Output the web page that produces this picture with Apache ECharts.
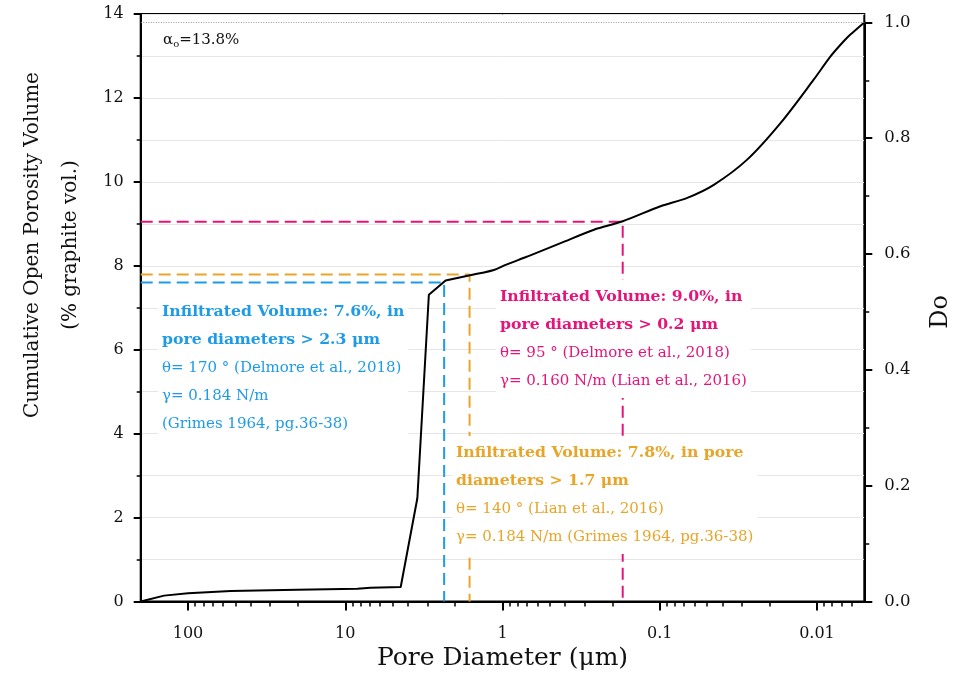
<!DOCTYPE html>
<html>
<head>
<meta charset="utf-8">
<script src="https://cdn.jsdelivr.net/npm/echarts@6/dist/echarts.min.js"></script>
<style>html,body{margin:0;padding:0;background:#fff}#c{width:955px;height:677px}</style>
</head>
<body>
<div id="c"></div>
<script>
// ---- data ----
const curveD = [200, 142, 100, 53.5, 20.2, 8.38, 6.9, 4.44, 3.48, 2.94, 2.30, 1.635, 1.134, 0.956, 0.696, 0.427, 0.262, 0.172, 0.0989, 0.0668, 0.0453, 0.0278, 0.01706, 0.01047, 0.0082, 0.00676, 0.00613, 0.005];
const curveV = [0.0, 0.14, 0.195, 0.25, 0.28, 0.305, 0.33, 0.346, 2.46, 7.31, 7.65, 7.77, 7.9, 8.02, 8.22, 8.54, 8.86, 9.06, 9.42, 9.62, 9.93, 10.53, 11.40, 12.44, 12.99, 13.35, 13.51, 13.8];
const kneeIndex = 11; // last sharp corner; the curve is smooth beyond it
const guideNames = ['blue', 'orange', 'pink'];
const guideD = [2.35, 1.62, 0.172];
const guideV = [7.6, 7.79, 9.05];
const alphaO = 13.8;
const xMajorTicks = [100, 10, 1, 0.1, 0.01];
const xMinorTicks = [90, 80, 70, 60, 50, 40, 30, 20, 9, 8, 7, 6, 5, 4, 3, 2, 0.9, 0.8, 0.7, 0.6, 0.5, 0.4, 0.3, 0.2, 0.09, 0.08, 0.07, 0.06, 0.05, 0.04, 0.03, 0.02, 0.009, 0.008, 0.007, 0.006];
const xMin = 0.005, xMax = 200;
const yMin = 0, yMax = 14, yInterval = 2;
const doMin = 0, doMax = 1, doInterval = 0.2;

// ---- styling ----
const FONT = 'DejaVu Serif';
const C_BLUE = '#1E9BE6', C_ORANGE = '#E8A52A', C_PINK = '#E6147A';
const guideColors = [C_BLUE, C_ORANGE, C_PINK];

const chart = echarts.init(document.getElementById('c'), null, {renderer: 'canvas'});

const GL = 140.7, GR = 90.7, GT = 14, GB = 75.5;
const plotH = 677 - GT - GB;
const gridTop2 = GT + (yMax - alphaO) / yMax * plotH;

const curveData = curveD.map((d, i) => [d, curveV[i]]);
const guideSeries = guideD.map((d, i) => ({
  type: 'line', name: guideNames[i], xAxisIndex: 0, yAxisIndex: 0,
  data: [[xMax, guideV[i]], [d, guideV[i]], [d, yMin]],
  symbol: 'none', silent: true, z: 3,
  lineStyle: {color: guideColors[i], width: 2, type: [12, 6]}
}));

function fmtX(v) {
  for (const t of xMajorTicks) { if (Math.abs(v - t) / t < 1e-6) return String(t); }
  return '';
}

const boxRich = (color) => ({
  b: {fontFamily: FONT, fontWeight: 'bold', fontSize: 15.7, lineHeight: 28, fill: color},
  r: {fontFamily: FONT, fontSize: 15, lineHeight: 28, fill: color}
});

const option = {
  animation: false,
  backgroundColor: '#fff',
  grid: [
    {left: GL, right: GR, top: GT, bottom: GB, show: true, borderColor: '#000', borderWidth: 2, outerBoundsMode: 'none', containLabel: false},
    {left: GL, right: GR, top: gridTop2, bottom: GB, outerBoundsMode: 'none', containLabel: false}
  ],
  xAxis: [
    {
      type: 'log', gridIndex: 0, logBase: 10, min: xMin, max: xMax, inverse: true, position: 'bottom',
      axisLine: {show: true, onZero: false, lineStyle: {color: '#000', width: 2}},
      axisTick: {show: true, length: 9, lineStyle: {color: '#000', width: 2}, customValues: xMajorTicks},
      axisLabel: {customValues: xMajorTicks, formatter: fmtX, margin: 24, fontFamily: FONT, fontSize: 16, color: '#111'},
      splitLine: {show: false}, minorTick: {show: false},
      name: 'Pore Diameter (μm)', nameLocation: 'middle', nameGap: 44,
      nameTextStyle: {fontFamily: FONT, fontSize: 25, color: '#111'}
    },
    {
      type: 'log', gridIndex: 0, logBase: 10, min: xMin, max: xMax, inverse: true, position: 'bottom',
      axisLine: {show: false, onZero: false},
      axisTick: {show: true, length: 5, lineStyle: {color: '#000', width: 1.5}, customValues: xMinorTicks},
      axisLabel: {show: false}, splitLine: {show: false}
    },
    {type: 'value', gridIndex: 1, min: 0, max: 1, show: false}
  ],
  yAxis: [
    {
      type: 'value', gridIndex: 0, min: yMin, max: yMax, interval: yInterval, position: 'left',
      axisLine: {show: true, onZero: false, lineStyle: {color: '#000', width: 2}},
      axisTick: {show: true, inside: false, length: 7, lineStyle: {color: '#000', width: 2}},
      minorTick: {show: true, splitNumber: 2, length: 4, lineStyle: {color: '#000', width: 1.5}},
      axisLabel: {margin: 17, fontFamily: FONT, fontSize: 16, color: '#111'},
      splitLine: {show: true, lineStyle: {color: '#e6e6e6', width: 1}},
      minorSplitLine: {show: true, lineStyle: {color: '#e6e6e6', width: 1}}
    },
    {
      type: 'value', gridIndex: 1, min: doMin, max: doMax, interval: doInterval, position: 'right',
      axisLine: {show: true, onZero: false, lineStyle: {color: '#000', width: 2}},
      axisTick: {show: true, inside: false, length: 8, lineStyle: {color: '#000', width: 2}},
      minorTick: {show: true, splitNumber: 2, length: 5, lineStyle: {color: '#000', width: 1.5}},
      axisLabel: {margin: 20, fontFamily: FONT, fontSize: 16.5, color: '#111', formatter: v => v.toFixed(1)},
      splitLine: {show: false},
      name: 'Do', nameLocation: 'middle', nameGap: 64, nameRotate: 90,
      nameTextStyle: {fontFamily: FONT, fontSize: 24, color: '#111'}
    }
  ],
  series: [
    ...guideSeries,
    {
      type: 'line', name: 'curve-lower', xAxisIndex: 0, yAxisIndex: 0, data: curveData.slice(0, kneeIndex + 1),
      symbol: 'none', z: 4, silent: true,
      lineStyle: {color: '#000', width: 2},
      markLine: {
        silent: true, symbol: 'none', label: {show: false},
        lineStyle: {color: '#999', width: 1, type: [1, 1.5]},
        data: [{yAxis: alphaO}]
      }
    },
    {
      type: 'line', name: 'curve-upper', xAxisIndex: 0, yAxisIndex: 0, data: curveData.slice(kneeIndex),
      symbol: 'none', z: 4, silent: true, smooth: 0.3,
      lineStyle: {color: '#000', width: 2}
    }
  ],
  graphic: [
    {
      type: 'text', x: 52, y: 245, rotation: Math.PI / 2, z: 10,
      style: {text: 'Cumulative Open Porosity Volume\n(% graphite vol.)', align: 'center', verticalAlign: 'middle',
        font: '20px "DejaVu Serif"', fill: '#111', lineHeight: 38}
    },
    {
      type: 'text', x: 163, y: 31, z: 10,
      style: {
        text: '{a|α}{s|o}{a|=13.8%}', verticalAlign: 'top',
        rich: {a: {fontFamily: FONT, fontSize: 15, fill: '#111'}, s: {fontFamily: FONT, fontSize: 10, fill: '#111', padding: [8, 0, 0, 0]}}
      }
    },
    {
      type: 'text', x: 158, y: 295, z: 20,
      style: {
        text: '{b|Infiltrated Volume: 7.6%, in}\n{b|pore diameters > 2.3 μm}\n{r|θ= 170 ° (Delmore et al., 2018)}\n{r|γ= 0.184 N/m}\n{r|(Grimes 1964, pg.36-38)}',
        verticalAlign: 'top', backgroundColor: '#fff', padding: [3, 4, 3, 4], rich: boxRich(C_BLUE)
      }
    },
    {
      type: 'text', x: 496, y: 280, z: 20,
      style: {
        text: '{b|Infiltrated Volume: 9.0%, in}\n{b|pore diameters > 0.2 μm}\n{r|θ= 95 ° (Delmore et al., 2018)}\n{r|γ= 0.160 N/m (Lian et al., 2016)}',
        verticalAlign: 'top', backgroundColor: '#fff', padding: [3, 4, 3, 4], rich: boxRich(C_PINK)
      }
    },
    {
      type: 'text', x: 452, y: 436, z: 20,
      style: {
        text: '{b|Infiltrated Volume: 7.8%, in pore}\n{b|diameters > 1.7 μm}\n{r|θ= 140 ° (Lian et al., 2016)}\n{r|γ= 0.184 N/m (Grimes 1964, pg.36-38)}',
        verticalAlign: 'top', backgroundColor: '#fff', padding: [3, 4, 3, 4], rich: boxRich(C_ORANGE)
      }
    }
  ]
};
chart.setOption(option);
</script>
</body>
</html>
